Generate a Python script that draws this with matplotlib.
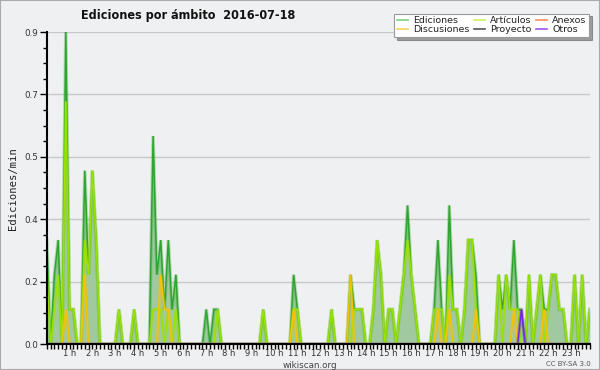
import numpy as np
import matplotlib
matplotlib.use("Agg")
import matplotlib.pyplot as plt
from matplotlib.ticker import FixedLocator, MultipleLocator, FormatStrFormatter
from matplotlib.patches import Rectangle

# ediciones por minuto, bloques de 10 min (12 valores = 2 horas por fila)
ediciones = [
    0.3, 0, 0.2, 0.3, 0, 0.9, 0.1, 0.1, 0, 0, 0.5, 0.2,
    0.5, 0.3, 0, 0, 0, 0, 0, 0.1, 0, 0, 0, 0.1,
    0, 0, 0, 0, 0.6, 0.2, 0.3, 0.1, 0.3, 0.1, 0.2, 0,
    0, 0, 0, 0, 0, 0, 0.1, 0, 0.1, 0.1, 0, 0,
    0, 0, 0, 0, 0, 0, 0, 0, 0, 0.1, 0, 0,
    0, 0, 0, 0, 0, 0.2, 0.1, 0, 0, 0, 0, 0,
    0, 0, 0, 0.1, 0, 0, 0, 0, 0.2, 0.1, 0.1, 0.1,
    0, 0, 0.1, 0.3, 0.2, 0, 0.1, 0.1, 0, 0.1, 0.2, 0.4,
    0.2, 0.1, 0, 0, 0, 0, 0.1, 0.3, 0.1, 0, 0.4, 0.1,
    0.1, 0, 0.1, 0.3, 0.3, 0.2, 0, 0, 0, 0, 0, 0.2,
    0.1, 0.2, 0.1, 0.3, 0.1, 0.1, 0, 0.2, 0, 0.1, 0.2, 0.1,
    0.1, 0.2, 0.2, 0.1, 0.1, 0, 0, 0.2, 0, 0.2, 0, 0.1,
]
articulos = [
    0.2, 0, 0.1, 0.2, 0, 0.7, 0.1, 0.1, 0, 0, 0.3, 0.2,
    0.5, 0.3, 0, 0, 0, 0, 0, 0.1, 0, 0, 0, 0.1,
    0, 0, 0, 0, 0.1, 0.1, 0.1, 0, 0.1, 0, 0.1, 0,
    0, 0, 0, 0, 0, 0, 0, 0, 0, 0.1, 0, 0,
    0, 0, 0, 0, 0, 0, 0, 0, 0, 0.1, 0, 0,
    0, 0, 0, 0, 0, 0.1, 0.1, 0, 0, 0, 0, 0,
    0, 0, 0, 0.1, 0, 0, 0, 0, 0, 0.1, 0.1, 0.1,
    0, 0, 0.1, 0.3, 0.2, 0, 0.1, 0.1, 0, 0.1, 0.2, 0.3,
    0.2, 0.1, 0, 0, 0, 0, 0.1, 0.1, 0.1, 0, 0.2, 0.1,
    0.1, 0, 0.1, 0.3, 0.3, 0.1, 0, 0, 0, 0, 0, 0.2,
    0, 0.2, 0.1, 0.1, 0.1, 0, 0, 0.2, 0, 0.1, 0.2, 0,
    0.1, 0.2, 0.2, 0.1, 0.1, 0, 0, 0.2, 0, 0.2, 0, 0.1,
]
discusiones = [
    0, 0, 0, 0, 0, 0.1, 0, 0, 0, 0, 0.2, 0,
    0, 0, 0, 0, 0, 0, 0, 0, 0, 0, 0, 0,
    0, 0, 0, 0, 0, 0, 0.2, 0.1, 0.1, 0, 0, 0,
    0, 0, 0, 0, 0, 0, 0, 0, 0, 0, 0, 0,
    0, 0, 0, 0, 0, 0, 0, 0, 0, 0, 0, 0,
    0, 0, 0, 0, 0, 0.1, 0, 0, 0, 0, 0, 0,
    0, 0, 0, 0, 0, 0, 0, 0, 0.2, 0, 0, 0,
    0, 0, 0, 0, 0, 0, 0, 0, 0, 0, 0, 0,
    0, 0, 0, 0, 0, 0, 0, 0.1, 0, 0, 0.1, 0,
    0, 0, 0, 0, 0, 0.1, 0, 0, 0, 0, 0, 0,
    0, 0, 0, 0.1, 0, 0, 0, 0, 0, 0, 0, 0.1,
    0, 0, 0, 0, 0, 0, 0, 0, 0, 0, 0, 0,
]
otros = [0] * 125 + [0.1] + [0] * 18
anexos = [0] * 144
proyecto = [0] * 144

hour_labels = ["%d h" % h for h in range(1, 24)]

x = np.arange(len(ediciones)) / 6.0  # horas

bg = "#eff0f1"
fig = plt.figure(figsize=(6, 3.7), dpi=100, facecolor=bg)
ax = fig.add_axes([0.078, 0.070, 0.905, 0.8435], facecolor=bg)


def glow_line(xs, ys, color, lw=1.1, z=3):
    ax.plot(xs, ys, color=color, lw=lw * 2.3, alpha=0.3, zorder=z, solid_joinstyle="miter")
    ax.plot(xs, ys, color=color, lw=lw, zorder=z + 0.1, solid_joinstyle="miter")


ax.fill_between(x, ediciones, 0, color="#a0c9a0", lw=0, zorder=2)
glow_line(x, ediciones, "#2ea52e", z=3)
glow_line(x, proyecto, "#555555", lw=0.5, z=2.5)
glow_line(x, anexos, "#ff7f50", lw=0.5, z=2.5)
glow_line(x, articulos, "#9be200", z=4)
glow_line(x, discusiones, "#f4c400", z=5)
glow_line(x, otros, "#7a24e6", z=6)

ax.set_xlim(0, x[-1])
ax.set_ylim(0, 0.9)

ax.xaxis.set_major_locator(FixedLocator(range(1, 24)))
ax.set_xticklabels(hour_labels)
ax.xaxis.set_minor_locator(MultipleLocator(1 / 6.0))
ax.yaxis.set_major_locator(MultipleLocator(0.18))
ax.yaxis.set_minor_locator(MultipleLocator(0.045))
ax.yaxis.set_major_formatter(FormatStrFormatter("%.1f"))

ax.tick_params(axis="both", which="both", direction="out", color="black", width=1)
ax.tick_params(axis="x", which="major", length=3.5, pad=0.3, labelsize=6, labelcolor="#333333")
ax.tick_params(axis="x", which="minor", length=3.5)
ax.tick_params(axis="y", which="major", length=5, pad=1, labelsize=6.3, labelcolor="#333333")
ax.tick_params(axis="y", which="minor", length=3)

ax.grid(axis="y", which="major", color="#c8c8c8", lw=1)
ax.set_axisbelow(True)
for s in ["top", "right"]:
    ax.spines[s].set_visible(False)
for s in ["left", "bottom"]:
    ax.spines[s].set_linewidth(1.5)
    ax.spines[s].set_zorder(10)

fig.text(0.313, 0.957, "Ediciones por ámbito  2016-07-18", ha="center", va="center",
         fontsize=9, fontweight="bold", fontstretch="condensed", color="#111111")
fig.text(0.021, 0.49, "Ediciones/min", rotation=90, ha="center", va="center",
         fontsize=7.6, family="DejaVu Sans Mono", color="#222222")
fig.text(0.517, 0.013, "wikiscan.org", ha="center", va="center", fontsize=6.3, color="#444444")
fig.text(0.985, 0.017, "CC BY-SA 3.0", ha="right", va="center", fontsize=5, color="#555555")

handles = [
    plt.Line2D([], [], color="#7fd07f", lw=1.2, label="Ediciones"),
    plt.Line2D([], [], color="#f5d35a", lw=1.2, label="Discusiones"),
    plt.Line2D([], [], color="#c9f25a", lw=1.2, label="Artículos"),
    plt.Line2D([], [], color="#555555", lw=1.2, label="Proyecto"),
    plt.Line2D([], [], color="#ff8a5c", lw=1.2, label="Anexos"),
    plt.Line2D([], [], color="#9a55f0", lw=1.2, label="Otros"),
]
leg = fig.legend(handles=handles, loc="upper right", bbox_to_anchor=(0.99, 0.976), ncol=3,
                 fontsize=6.8, frameon=True, fancybox=False, shadow=True, handlelength=1.2,
                 handletextpad=0.5, columnspacing=0.5, labelspacing=0.0, borderpad=0.3)
leg.get_frame().set_edgecolor("#999999")
leg.get_frame().set_linewidth(0.8)
for t in leg.get_texts():
    t.set_color("#222222")

fig.patches.append(Rectangle((0, 0), 1, 1, transform=fig.transFigure, fill=False,
                             edgecolor="#aaaaaa", lw=1.5))

fig.savefig("out.png", dpi=100, facecolor=bg)
